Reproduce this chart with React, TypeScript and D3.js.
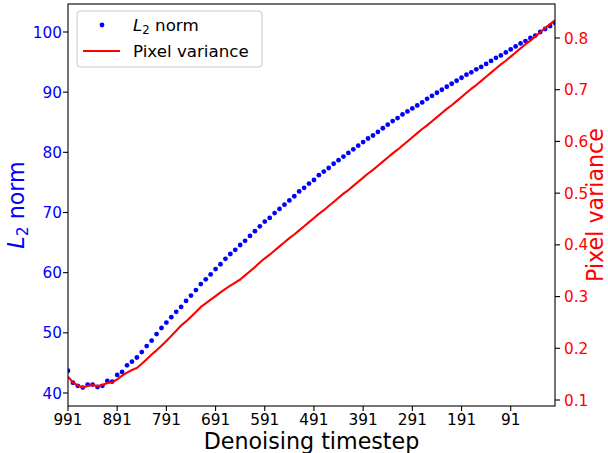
import React from "react";
import * as d3 from "d3";

const timesteps: number[] = d3.range(0, 100).map((i) => 991 - 10 * i);

const l2Norm: number[] = [
  43.7, 41.7, 41.2, 40.9, 41.4, 41.4, 41.0, 41.2, 42.0, 41.9,
  43.0, 43.5, 44.6, 45.2, 45.9, 46.8, 47.8, 48.7, 49.8, 50.8,
  51.7, 52.6, 53.5, 54.3, 55.3, 56.2, 57.1, 58.1, 58.9, 59.7,
  60.6, 61.4, 62.3, 63.1, 63.8, 64.6, 65.3, 66.1, 66.9, 67.7,
  68.5, 69.1, 69.9, 70.6, 71.3, 72.0, 72.7, 73.5, 74.1, 74.8,
  75.4, 76.2, 76.8, 77.4, 78.1, 78.7, 79.3, 79.9, 80.5, 81.1,
  81.7, 82.3, 82.8, 83.4, 84.0, 84.6, 85.2, 85.7, 86.3, 86.8,
  87.3, 87.8, 88.3, 88.9, 89.4, 89.9, 90.4, 90.9, 91.4, 91.9,
  92.4, 92.9, 93.3, 93.8, 94.2, 94.7, 95.2, 95.7, 96.1, 96.6,
  97.1, 97.6, 98.1, 98.5, 99.0, 99.4, 100.0, 100.5, 101.0, 101.5,
];

const pixelVariance: number[] = [
  0.145, 0.134, 0.128, 0.124, 0.127, 0.129, 0.127, 0.129, 0.133, 0.134,
  0.140, 0.147, 0.153, 0.158, 0.162, 0.170, 0.179, 0.188, 0.196, 0.205,
  0.214, 0.224, 0.234, 0.244, 0.252, 0.261, 0.270, 0.280, 0.287, 0.294,
  0.301, 0.308, 0.315, 0.321, 0.327, 0.333, 0.341, 0.349, 0.357, 0.366,
  0.374, 0.381, 0.389, 0.397, 0.405, 0.413, 0.420, 0.428, 0.436, 0.444,
  0.452, 0.460, 0.467, 0.475, 0.483, 0.491, 0.499, 0.506, 0.514, 0.522,
  0.530, 0.538, 0.545, 0.553, 0.561, 0.569, 0.577, 0.584, 0.592, 0.600,
  0.608, 0.616, 0.624, 0.631, 0.639, 0.647, 0.655, 0.663, 0.670, 0.678,
  0.686, 0.694, 0.702, 0.709, 0.717, 0.725, 0.733, 0.741, 0.749, 0.756,
  0.764, 0.772, 0.780, 0.788, 0.795, 0.803, 0.811, 0.819, 0.827, 0.834,
];

const xTicks: number[] = [991, 891, 791, 691, 591, 491, 391, 291, 191, 91];
const leftTicks: number[] = [40, 50, 60, 70, 80, 90, 100];
const rightTicks: number[] = [0.1, 0.2, 0.3, 0.4, 0.5, 0.6, 0.7, 0.8];

const W = 608;
const H = 453;
const L = 68;
const R = 555;
const T = 4;
const B = 406;
const FONT = "DejaVu Sans";
const BLUE = "#0000ff";
const RED = "#ff0000";

export default function App() {
  const x = d3.scaleLinear().domain([991, 1]).range([L, R]);
  const yL = d3.scaleLinear().domain([40, 100]).range([393, 32]);
  const yR = d3.scaleLinear().domain([0.1, 0.8]).range([400, 38]);

  const line = d3
    .line<number>()
    .x((_, i) => x(timesteps[i]))
    .y((d) => yR(d));

  const tickLen = 5;

  return (
    <svg
      width={W}
      height={H}
      style={{ position: "absolute", left: 0, top: 0, background: "#fff" }}
      fontFamily={FONT}
    >
      <rect x={0} y={0} width={W} height={H} fill="#fff" />
      <defs>
        <clipPath id="plotclip">
          <rect x={L} y={T} width={R - L} height={B - T} />
        </clipPath>
      </defs>

      <g clipPath="url(#plotclip)">
        {l2Norm.map((v, i) => (
          <circle key={i} cx={x(timesteps[i])} cy={yL(v)} r={2.4} fill={BLUE} />
        ))}
        <path
          d={line(pixelVariance) || ""}
          fill="none"
          stroke={RED}
          strokeWidth={2.1}
          strokeLinejoin="round"
          strokeLinecap="butt"
        />
      </g>

      {/* spines */}
      <rect x={L} y={T} width={R - L} height={B - T} fill="none" stroke="#000" strokeWidth={1.1} />

      {/* x ticks */}
      {xTicks.map((t) => (
        <g key={t}>
          <line x1={x(t)} x2={x(t)} y1={B} y2={B + tickLen} stroke="#000" strokeWidth={1.1} />
          <text x={x(t)} y={425} textAnchor="middle" fontSize={15.3} fill="#000">
            {t}
          </text>
        </g>
      ))}

      {/* left ticks */}
      {leftTicks.map((t) => (
        <g key={t}>
          <line x1={L - tickLen} x2={L} y1={yL(t)} y2={yL(t)} stroke="#000" strokeWidth={1.1} />
          <text x={62} y={yL(t) + 5.5} textAnchor="end" fontSize={15.3} fill={BLUE}>
            {t}
          </text>
        </g>
      ))}

      {/* right ticks */}
      {rightTicks.map((t) => (
        <g key={t}>
          <line x1={R} x2={R + tickLen} y1={yR(t)} y2={yR(t)} stroke="#000" strokeWidth={1.1} />
          <text x={564} y={yR(t) + 5.5} textAnchor="start" fontSize={15.3} fill={RED}>
            {t.toFixed(1)}
          </text>
        </g>
      ))}

      {/* axis labels */}
      <text x={(L + R) / 2} y={449} textAnchor="middle" fontSize={22.2} fill="#000">
        Denoising timestep
      </text>
      <text
        transform={`translate(24, ${(T + B) / 2}) rotate(-90)`}
        textAnchor="middle"
        fontSize={22.2}
        fill={BLUE}
      >
        <tspan fontStyle="italic">L</tspan>
        <tspan fontSize={15.5} dy={4}>2</tspan>
        <tspan dy={-4}> norm</tspan>
      </text>
      <text
        transform={`translate(603, ${(T + B) / 2}) rotate(-90)`}
        textAnchor="middle"
        fontSize={22.2}
        fill={RED}
      >
        Pixel variance
      </text>

      {/* legend */}
      <rect x={77} y={11} width={185} height={56} rx={3.5} fill="#fff" fillOpacity={0.8} stroke="#cccccc" strokeWidth={1.1} />
      <circle cx={102} cy={25} r={2.4} fill={BLUE} />
      <text x={133} y={31} fontSize={16.7} fill="#000">
        <tspan fontStyle="italic">L</tspan>
        <tspan fontSize={11.7} dy={3}>2</tspan>
        <tspan dy={-3}> norm</tspan>
      </text>
      <line x1={83} x2={120} y1={51} y2={51} stroke={RED} strokeWidth={2.1} />
      <text x={133} y={57} fontSize={16.7} fill="#000">
        Pixel variance
      </text>
    </svg>
  );
}
